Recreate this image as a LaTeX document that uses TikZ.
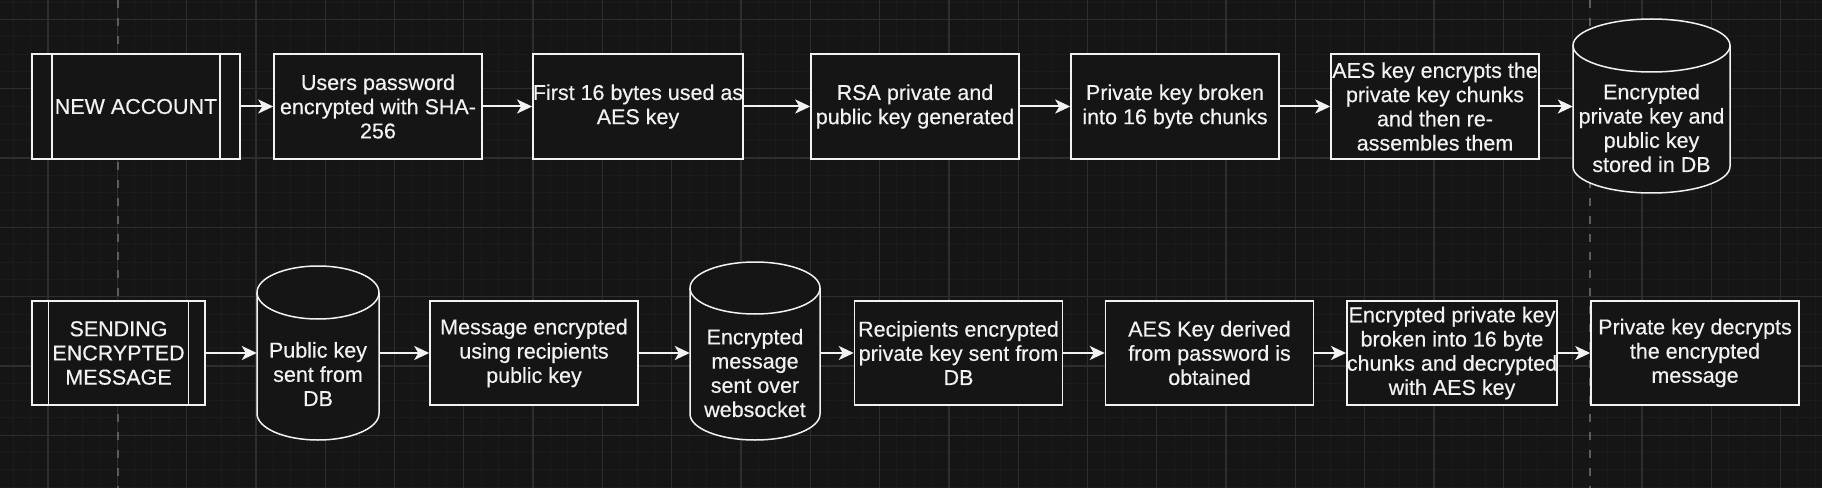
\documentclass[tikz,border=0pt]{standalone}
\usepackage{fontspec}
\setmainfont{Liberation Sans}[FakeBold=0.4]
\usetikzlibrary{arrows.meta}

\definecolor{bgdark}{HTML}{151515}
\definecolor{gridmajor}{HTML}{2E2E2E}
\definecolor{gridminor}{HTML}{1B1B1B}
\definecolor{pagebreak}{HTML}{5C5C5C}
\definecolor{linewhite}{HTML}{F2F2F2}

% cylinder outline: centre x, top y, bottom y, half width, end radius
\newcommand{\dbcyl}[5]{%
  \fill[bgdark] (#1-#4,#2-#5) -- (#1-#4,#3+#5)
    arc[start angle=180, end angle=360, x radius=#4pt, y radius=#5pt]
    -- (#1+#4,#2-#5)
    arc[start angle=0, end angle=180, x radius=#4pt, y radius=#5pt] -- cycle;
  \draw[linewhite, line width=1.5pt] (#1-#4,#2-#5) -- (#1-#4,#3+#5)
    arc[start angle=180, end angle=360, x radius=#4pt, y radius=#5pt]
    -- (#1+#4,#2-#5);
  \draw[linewhite, line width=1.5pt] (#1,#2-#5) ellipse [x radius=#4pt, y radius=#5pt];
}

\def\xMax{1822}
\def\yMax{488}
\def\gridStep{69.3}

\begin{document}
\begin{tikzpicture}[x=1pt, y=1pt, >={Stealth[length=15pt, width=14pt, inset=4pt]},
    flowbox/.style={draw=linewhite, line width=1.5pt, fill=bgdark, text=linewhite,
      minimum width=208pt, minimum height=105pt, inner sep=0pt, align=center,
      font=\fontsize{21.5}{24.2}\selectfont},
    dbtext/.style={text=linewhite, inner sep=0pt, align=center,
      font=\fontsize{21.5}{24.2}\selectfont},
    flow/.style={->, draw=linewhite, line width=2pt}]
  \useasboundingbox (0,0) rectangle (\xMax,\yMax);
  \fill[bgdark] (0,0) rectangle (\xMax,\yMax);

  % grid
  \foreach \i in {-2,...,104} {
      \draw[gridminor, line width=1pt] ({48+\i*\gridStep/4},0) -- ++(0,\yMax);
  }
  \foreach \i in {-1,...,28} {
      \draw[gridminor, line width=1pt] (0,{468.5-\i*\gridStep/4}) -- ++(\xMax,0);
  }
  \foreach \i in {0,...,25} {
      \draw[gridmajor, line width=1.3pt] ({48+\i*\gridStep},0) -- ++(0,\yMax);
  }
  \foreach \i in {0,...,6} {
      \draw[gridmajor, line width=1.3pt] (0,{468.5-\i*\gridStep}) -- ++(\xMax,0);
  }
  \foreach \x in {118,1590} {
      \draw[pagebreak, line width=1.3pt, dash pattern=on 8pt off 10pt] (\x,\yMax) -- (\x,0);
  }

  % new account
  \node[flowbox] (newacc) at (136,381.5) {NEW ACCOUNT};
  \node[flowbox] (userpw) at (378,381.5) {Users password\\encrypted with SHA-\\256};
  \node[flowbox] (firstbytes) at (638,381.5) {First 16 bytes used as\\AES key};
  \node[flowbox] (rsagen) at (915,381.5) {RSA private and\\public key generated};
  \node[flowbox] (chunks) at (1175,381.5) {Private key broken\\into 16 byte chunks};
  \node[flowbox] (aesenc) at (1435,381.5) {AES key encrypts the\\private key chunks\\and then re-\\assembles them};
  \dbcyl{1651.5}{469}{295}{78.5}{26.5}
  \node[dbtext, minimum width=157pt] (stored) at (1651.5,360) {Encrypted\\private key and\\public key\\stored in DB};

  % sending a message
  \node[flowbox, minimum width=173pt, minimum height=104pt] (sending) at (118.5,135) {SENDING\\ENCRYPTED\\MESSAGE};
  \dbcyl{318}{222}{48}{61}{26.5}
  \node[dbtext, minimum width=122pt] (pubkey) at (318,114) {Public key\\sent from\\DB};
  \node[flowbox, minimum height=104pt] (msgenc) at (534,135) {Message encrypted\\using recipients\\public key};
  \dbcyl{755}{226}{48}{65}{26}
  \node[dbtext, minimum width=130pt] (websock) at (755,115) {Encrypted\\message\\sent over\\websocket};
  \node[flowbox, minimum height=104pt] (recipkey) at (958.5,135) {Recipients encrypted\\private key sent from\\DB};
  \node[flowbox, minimum height=104pt] (aesderive) at (1209.5,135) {AES Key derived\\from password is\\obtained};
  \node[flowbox, minimum height=104pt] (decchunks) at (1452,135) {Encrypted private key\\broken into 16 byte\\chunks and decrypted\\with AES key};
  \node[flowbox, minimum height=104pt] (finaldec) at (1695,135) {Private key decrypts\\the encrypted\\message};

  % process box side bars
  \foreach \n/\d in {newacc/20.8, sending/17.3} {
      \draw[linewhite, line width=1.5pt] ([xshift=\d pt]\n.north west) -- ([xshift=\d pt]\n.south west);
      \draw[linewhite, line width=1.5pt] ([xshift=-\d pt]\n.north east) -- ([xshift=-\d pt]\n.south east);
  }

  % arrows
  \draw[flow] (newacc) -- (userpw);
  \draw[flow] (userpw) -- (firstbytes);
  \draw[flow] (firstbytes) -- (rsagen);
  \draw[flow] (rsagen) -- (chunks);
  \draw[flow] (chunks) -- (aesenc);
  \draw[flow] (aesenc.east) -- (stored.west |- aesenc.east);

  \draw[flow] (sending.east) -- (pubkey.west |- sending.east);
  \draw[flow] (pubkey.east |- msgenc.west) -- (msgenc.west);
  \draw[flow] (msgenc.east) -- (websock.west |- msgenc.east);
  \draw[flow] (websock.east |- recipkey.west) -- (recipkey.west);
  \draw[flow] (recipkey) -- (aesderive);
  \draw[flow] (aesderive) -- (decchunks);
  \draw[flow] (decchunks) -- (finaldec);
\end{tikzpicture}
\end{document}
